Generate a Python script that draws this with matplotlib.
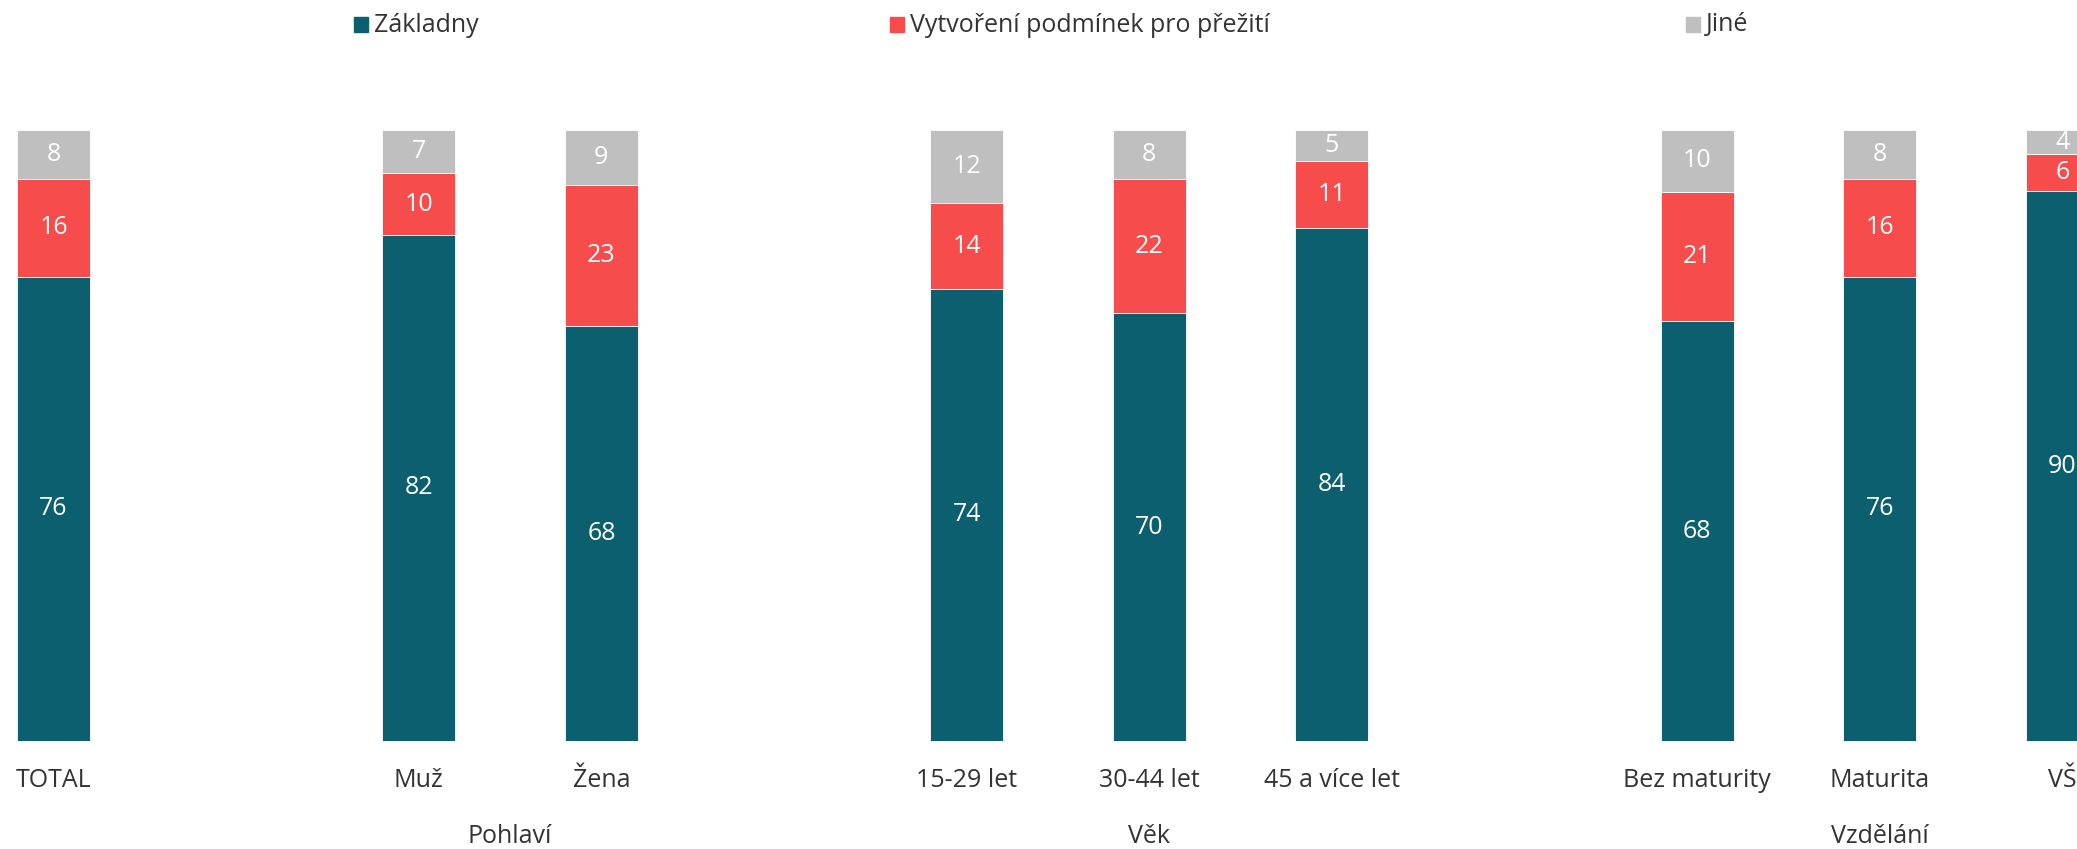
import numpy as np
import matplotlib
matplotlib.use("Agg")
import matplotlib.pyplot as plt
from matplotlib.patches import Rectangle

plt.rcParams['font.family'] = ['Open Sans', 'DejaVu Sans']

# data
categories = ["TOTAL", "Muž", "Žena", "15-29 let", "30-44 let", "45 a více let",
              "Bez maturity", "Maturita", "VŠ"]
slots = [0, 2, 3, 5, 6, 7, 9, 10, 11]
zakladny = [76, 82, 68, 74, 70, 84, 68, 76, 90]
podminky = [16, 10, 23, 14, 22, 11, 21, 16, 6]
jine = [8, 7, 9, 12, 8, 5, 10, 8, 4]
groups = ["Pohlaví", "Věk", "Vzdělání"]
group_pos = [2.5, 6, 10]
series_names = ["Základny", "Vytvoření podmínek pro přežití", "Jiné"]
colors = ["#0C5F6E", "#F74C4C", "#BFBFBF"]

fig = plt.figure(figsize=(20.77, 8.49), dpi=100)
ax = fig.add_axes([0, 0.1272, 1, 0.7197])

series = np.array([zakladny, podminky, jine], dtype=float)
totals = series.sum(axis=0)
shares = series / totals * 100
x = np.array(slots, dtype=float)
bottom = np.zeros(len(categories))
for vals, share, col in zip(series, shares, colors):
    ax.bar(x, share, bottom=bottom, width=0.4, color=col,
           edgecolor="white", linewidth=0.6)
    for xi, b, s, v in zip(x, bottom, share, vals):
        ax.text(xi, b + s / 2, f"{v:.0f}", ha="center", va="center",
                color="white", fontsize=18)
    bottom += share

ax.set_xlim(-0.293, 11.08)
ax.set_ylim(0, 100)
ax.axis("off")

# category labels
trans = ax.get_xaxis_transform()
for xi, c in zip(x, categories):
    ax.text(xi, -0.064, c, transform=trans, ha="center", va="center",
            fontsize=18, color="#333333", clip_on=False)
for gp, g in zip(group_pos, groups):
    ax.text(gp, -0.157, g, transform=trans, ha="center", va="center",
            fontsize=18, color="#333333", clip_on=False)

# legend drawn by hand to keep wide spacing
leg_x = [354, 890, 1686]
W, H = 2077, 849
for lx, name, col in zip(leg_x, series_names, colors):
    fig.add_artist(Rectangle((lx / W, 1 - 32 / H), 14 / W, 15 / H,
                             transform=fig.transFigure, color=col))
    fig.text((lx + 20) / W, 1 - 25 / H, name, ha="left", va="center",
             fontsize=18, color="#333333")

fig.savefig("out.png", dpi=100)
